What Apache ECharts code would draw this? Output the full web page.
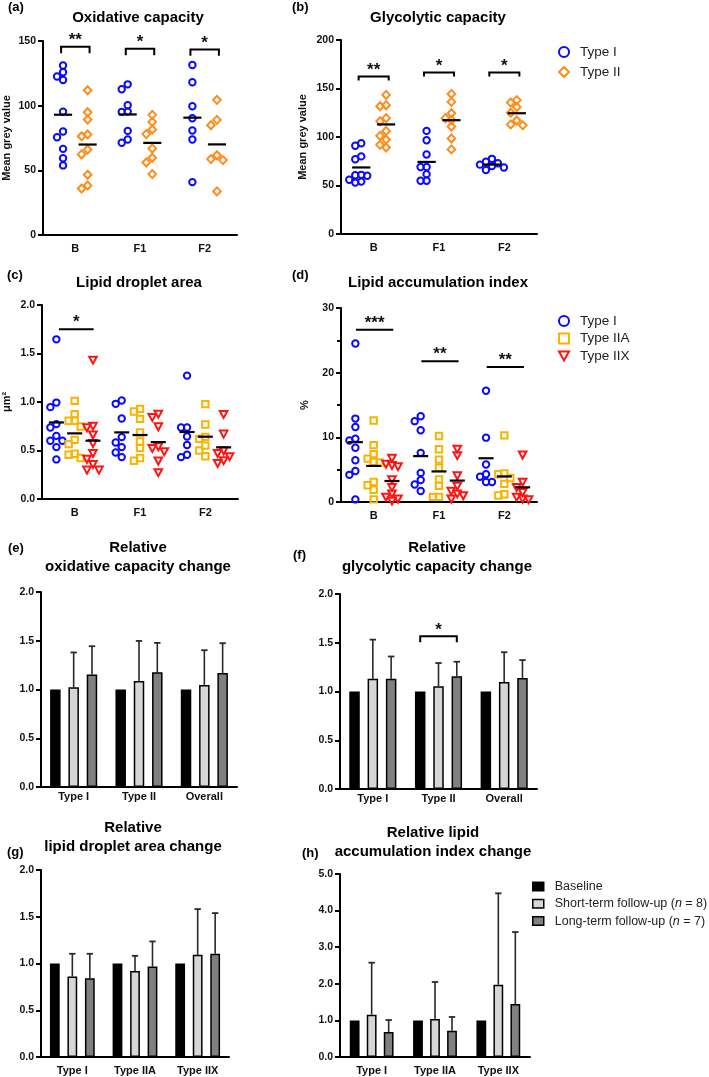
<!DOCTYPE html>
<html><head><meta charset="utf-8">
<script src="https://cdn.jsdelivr.net/npm/echarts@6/dist/echarts.min.js"></script>
<style>html,body{margin:0;padding:0;background:#fff}#c{width:709px;height:1077px}</style>
</head><body><div id="c"></div>
<script>
// ---------------- DATA ----------------
const timeCats = ['B', 'F1', 'F2'];
const relCatsEF = ['Type I', 'Type II', 'Overall'];
const relCatsGH = ['Type I', 'Type IIA', 'Type IIX'];

// (a) Oxidative capacity – mean grey value, per time point
const oxTypeI  = [[131,125.8,122.5,119.9,95.4,80,75.6,66.6,59.4,53.8],[116.5,112.7,100.3,95.4,95.2,80.5,73.8,71.3],[131.5,118.1,99.6,90.3,80.8,73.8,40.9]];
const oxTypeII = [[111.9,94.9,89.3,77.7,76.4,66.1,62.3,46.6,38.3,36.0],[92.9,87.5,81.6,78,66.9,59.7,56.1,47.1],[104.5,89,84.9,61.7,58.7,57.9,33.7]];
// (b) Glycolytic capacity
const glyTypeI  = [[93.5,91,80,77,61,60.5,60,56,54,53],[106.3,96.7,82,69,69,61.7,54.9,54.9],[77.5,74.5,73,71.5,70,68.5,66]];
const glyTypeII = [[143.4,132.8,131.7,119.4,116.3,106.3,101.2,97.4,91.9,89.2],[144.4,136.2,124.5,119.4,117.6,110.8,98.5,87.2],[138,135.5,131,125,117,113,112]];
// (c) Lipid droplet area (µm²)
const ldaTypeI   = [[1.646,0.994,0.947,0.772,0.737,0.651,0.600,0.600,0.535,0.408],[1.015,0.981,0.830,0.638,0.583,0.535,0.480,0.432],[1.272,0.737,0.737,0.644,0.556,0.456,0.432]];
const ldaTypeIIA = [[1.012,0.875,0.806,0.806,0.747,0.610,0.566,0.466,0.456,0.422],[0.929,0.902,0.826,0.686,0.593,0.525,0.422,0.394],[0.978,0.768,0.64,0.62,0.55,0.50,0.44]];
const ldaTypeIIX = [[1.434,0.754,0.737,0.662,0.576,0.473,0.412,0.360,0.301,0.301],[0.878,0.844,0.747,0.541,0.525,0.490,0.394,0.274],[0.875,0.672,0.500,0.473,0.439,0.398,0.370]];
// (d) Lipid accumulation index (%)
const laiTypeI   = [[24.5,12.9,11.6,9.8,9.5,8.4,6.45,4.8,4.2,0.4],[13.25,12.5,11.1,7.6,4.5,3.4,2.7,1.7],[17.2,9.95,5.8,4.3,3.9,3.1,3.1]];
const laiTypeIIA = [[12.6,8.8,7.4,6.7,6.2,6.1,3.1,2.6,1.9,0.4],[10.2,8.15,6.55,5.3,3.5,2.5,0.8,0.8],[10.3,4.4,4.3,3.7,2.8,1.2,1.0]];
const laiTypeIIX = [[6.8,5.9,5.7,5.5,3.5,2.3,1.3,0.8,0.5,0.2],[8.2,7.2,4.1,2.5,1.7,1.3,1.0,0.5],[7.3,3.1,2.3,1.5,0.8,0.5,0.4]];

// significance annotations: category, bracket height, tick end, label
const sigOx  = [{cat:0,y:145.6,tick:140.5,label:'**'},{cat:1,y:144,tick:139,label:'*'},{cat:2,y:143.5,tick:138.5,label:'*'}];
const sigGly = [{cat:0,y:162.3,tick:158.2,label:'**'},{cat:1,y:166.4,tick:162.3,label:'*'},{cat:2,y:166.4,tick:162.3,label:'*'}];
const sigLda = [{cat:0,y:1.75,label:'*'}];
const sigLai = [{cat:0,y:26.65,label:'***'},{cat:1,y:21.76,label:'**'},{cat:2,y:20.88,label:'**'}];
const sigGlyRel = [{cat:1,y:1.566,tick:1.505,label:'*'}];

// (e)-(h) relative changes: bar height and upper end of error bar
const baseline = [1, 1, 1];
const oxRelShort = [1.024,1.088,1.047], oxRelShortTop = [1.38,1.498,1.403];
const oxRelLong  = [1.153,1.176,1.169], oxRelLongTop  = [1.444,1.478,1.475];
const glyRelShort = [1.132,1.054,1.098], glyRelShortTop = [1.532,1.292,1.403];
const glyRelLong  = [1.132,1.156,1.139], glyRelLongTop  = [1.359,1.305,1.322];
const ldaRelShort = [0.861,0.921,1.093], ldaRelShortTop = [1.104,1.082,1.582];
const ldaRelLong  = [0.843,0.968,1.104], ldaRelLongTop  = [1.104,1.236,1.539];
const laiRelShort = [1.157,1.038,1.976], laiRelShortTop = [2.577,2.049,4.472];
const laiRelLong  = [0.683,0.719,1.448], laiRelLongTop  = [1.011,1.093,3.415];
const nShort = 8, nLong = 7;

// ---------------- STYLE ----------------
const FONT = '"Liberation Sans", Arial, Helvetica, sans-serif';
const BLUE = '#0a0aff', ORANGE = '#ff8c1a', YELLOW = '#f7b400', RED = '#ff1414';
const LIGHT = '#d6d6d6', DARK = '#808080';

const grids = [
  {left:41, top:41, width:196, height:194},
  {left:341, top:40, width:196, height:194},
  {left:42, top:305, width:196, height:194},
  {left:341, top:308, width:196, height:194},
  {left:41, top:592, width:196, height:195},
  {left:340, top:594, width:197, height:195},
  {left:41, top:870, width:188, height:187},
  {left:340, top:874, width:190, height:183}
];

function xAx(gi, cats, margin) {
  return {gridIndex:gi, type:'category', data:cats, boundaryGap:true,
    axisLine:{lineStyle:{color:'#000', width:2}},
    axisTick:{alignWithLabel:true, length:5, lineStyle:{color:'#000', width:2}},
    axisLabel:{fontFamily:FONT, fontWeight:'bold', fontSize:11, color:'#111', margin:margin},
    splitLine:{show:false}};
}
function yAx(gi, max, interval, dec, name, gap, extra) {
  return Object.assign({gridIndex:gi, type:'value', min:0, max:max, interval:interval,
    name:name, nameLocation:'middle', nameGap:gap,
    nameTextStyle:{fontFamily:FONT, fontWeight:'bold', fontSize:11, color:'#111'},
    axisLine:{show:true, lineStyle:{color:'#000', width:2}},
    axisTick:{show:true, length:5, lineStyle:{color:'#000', width:2}},
    axisLabel:{fontFamily:FONT, fontWeight:'bold', fontSize:10.5, color:'#111', margin:7,
      formatter: v => v.toFixed(dec)},
    splitLine:{show:false}}, extra || {});
}

const xAxes = [
  xAx(0,timeCats,8), xAx(1,timeCats,8), xAx(2,timeCats,8), xAx(3,timeCats,8),
  xAx(4,relCatsEF,4), xAx(5,relCatsEF,4), xAx(6,relCatsGH,8), xAx(7,relCatsGH,8)
];
const yAxes = [
  yAx(0,150,50,0,'Mean grey value',31),
  yAx(1,200,50,0,'Mean grey value',33),
  yAx(2,2,0.5,1,'μm²',30),
  yAx(3,30,10,0,'%',31,{minorTick:{show:true, splitNumber:2, length:4, lineStyle:{color:'#000', width:2}}}),
  yAx(4,2,0.5,1,'',30), yAx(5,2,0.5,1,'',30), yAx(6,2,0.5,1,'',30), yAx(7,5,1,1,'',30)
];

// ---------------- HELPERS ----------------
function swarm(pts, step, D) {
  const order = pts.slice().sort((a, b) => a.y - b.y);
  const placed = [];
  order.forEach(p => {
    let off = 0;
    for (let n = 0; n < 40; n++) {
      off = n === 0 ? 0 : (n % 2 ? -1 : 1) * Math.ceil(n / 2) * step;
      const x = p.x0 + off;
      if (placed.every(q => (q.x - x) * (q.x - x) + (q.y - p.y) * (q.y - p.y) >= D * D)) break;
    }
    p.x = p.x0 + off;
    placed.push(p);
  });
}
function shapeEl(shape, x, y, color) {
  const st = {fill:'rgba(0,0,0,0)', stroke:color, lineWidth:2};
  if (shape === 'circle') return {type:'circle', shape:{cx:x, cy:y, r:3.2}, style:st};
  if (shape === 'diamond') return {type:'polygon', shape:{points:[[x,y-4],[x+3.8,y],[x,y+4],[x-3.8,y]]}, style:st};
  if (shape === 'square') return {type:'rect', shape:{x:x-3.2, y:y-3.2, width:6.4, height:6.4}, style:st};
  return {type:'polygon', shape:{points:[[x-3.8,y-3.2],[x+3.8,y-3.2],[x,y+3.8]]}, style:st};
}
function pointSeries(name, gi, groups, shape, color, frac) {
  const data = [];
  groups.forEach((vals, c) => vals.forEach(v => data.push([c, v])));
  return {type:'custom', name:name, xAxisIndex:gi, yAxisIndex:gi, z:3, data:data, silent:true,
    renderItem(params, api) {
      const band = api.size([1, 0])[0];
      const pos = [];
      groups.forEach((vals, c) => {
        const pts = vals.map(v => { const p = api.coord([c, v]); return {x0:p[0] + frac * band, y:p[1]}; });
        swarm(pts, 6, 6);
        pts.forEach(p => pos.push(p));
      });
      const p = pos[params.dataIndex];
      return shapeEl(shape, p.x, p.y, color);
    }};
}
function meanSeries(gi, groups, frac, hw) {
  const data = groups.map((vals, c) => [c, vals.reduce((a, b) => a + b, 0) / vals.length]);
  return {type:'custom', xAxisIndex:gi, yAxisIndex:gi, z:6, data:data, silent:true,
    renderItem(params, api) {
      const band = api.size([1, 0])[0];
      const p = api.coord([api.value(0), api.value(1)]);
      const x = p[0] + frac * band;
      return {type:'line', shape:{x1:x - hw * band, y1:p[1], x2:x + hw * band, y2:p[1]},
        style:{stroke:'#000', lineWidth:2.2}};
    }};
}
function sigSeries(gi, sigs, spanFn) {
  const data = sigs.map((s, i) => [s.cat, s.y, s.tick == null ? s.y : s.tick, i]);
  return {type:'custom', xAxisIndex:gi, yAxisIndex:gi, z:7, data:data, silent:true,
    renderItem(params, api) {
      const band = api.size([1, 0])[0];
      const c = api.coord([api.value(0), api.value(1)]);
      const t = api.coord([api.value(0), api.value(2)]);
      const sp = spanFn(band);
      const x1 = c[0] + sp[0], x2 = c[0] + sp[1];
      return {type:'group', children:[
        {type:'polyline', shape:{points:[[x1,t[1]],[x1,c[1]],[x2,c[1]],[x2,t[1]]]},
          style:{stroke:'#000', lineWidth:2, fill:null}},
        {type:'text', style:{text:sigs[api.value(3)].label, x:(x1 + x2) / 2, y:c[1] - 6.5,
          align:'center', verticalAlign:'middle', textAlign:'center', textVerticalAlign:'middle',
          font:'bold 17px ' + FONT, fill:'#111'}}
      ]};
    }};
}
function barSeries(gi, base, shortV, shortTop, longV, longTop, bw, step) {
  const gap = ((step - bw) / bw * 100).toFixed(1) + '%';
  const common = {type:'bar', xAxisIndex:gi, yAxisIndex:gi, barWidth:bw, barGap:gap, silent:true, z:2};
  const errData = [];
  shortV.forEach((v, i) => errData.push([i, 1, v, shortTop[i]]));
  longV.forEach((v, i) => errData.push([i, 2, v, longTop[i]]));
  return [
    Object.assign({}, common, {name:'Baseline', data:base, itemStyle:{color:'#000', borderColor:'#000', borderWidth:1.5}}),
    Object.assign({}, common, {name:'Short-term follow-up', data:shortV, itemStyle:{color:LIGHT, borderColor:'#000', borderWidth:1.5}}),
    Object.assign({}, common, {name:'Long-term follow-up', data:longV, itemStyle:{color:DARK, borderColor:'#000', borderWidth:1.5}}),
    {type:'custom', xAxisIndex:gi, yAxisIndex:gi, z:1, data:errData, silent:true,
      encode:{x:0, y:[2,3]},
      renderItem(params, api) {
        const m = api.coord([api.value(0), api.value(2)]);
        const t = api.coord([api.value(0), api.value(3)]);
        const x = m[0] + (api.value(1) - 1) * step;
        return {type:'group', children:[
          {type:'line', shape:{x1:x, y1:m[1], x2:x, y2:t[1]}, style:{stroke:'#2a2a2a', lineWidth:1.6}},
          {type:'line', shape:{x1:x - 3.2, y1:t[1], x2:x + 3.2, y2:t[1]}, style:{stroke:'#2a2a2a', lineWidth:1.8}}
        ]};
      }}
  ];
}

// ---------------- SERIES ----------------
let series = [];
series.push(pointSeries('Type I', 0, oxTypeI, 'circle', BLUE, -0.19));
series.push(pointSeries('Type II', 0, oxTypeII, 'diamond', ORANGE, 0.19));
series.push(meanSeries(0, oxTypeI, -0.19, 0.14), meanSeries(0, oxTypeII, 0.19, 0.14));
series.push(sigSeries(0, sigOx, b => [-0.22 * b, 0.22 * b]));

series.push(pointSeries('Type I', 1, glyTypeI, 'circle', BLUE, -0.19));
series.push(pointSeries('Type II', 1, glyTypeII, 'diamond', ORANGE, 0.19));
series.push(meanSeries(1, glyTypeI, -0.19, 0.14), meanSeries(1, glyTypeII, 0.19, 0.14));
series.push(sigSeries(1, sigGly, b => [-0.23 * b, 0.23 * b]));

series.push(pointSeries('Type I', 2, ldaTypeI, 'circle', BLUE, -0.28));
series.push(pointSeries('Type IIA', 2, ldaTypeIIA, 'square', YELLOW, 0));
series.push(pointSeries('Type IIX', 2, ldaTypeIIX, 'triangle', RED, 0.28));
series.push(meanSeries(2, ldaTypeI, -0.28, 0.115), meanSeries(2, ldaTypeIIA, 0, 0.115), meanSeries(2, ldaTypeIIX, 0.28, 0.115));
series.push(sigSeries(2, sigLda, b => [-0.24 * b, 0.29 * b]));

series.push(pointSeries('Type I', 3, laiTypeI, 'circle', BLUE, -0.28));
series.push(pointSeries('Type IIA', 3, laiTypeIIA, 'square', YELLOW, 0));
series.push(pointSeries('Type IIX', 3, laiTypeIIX, 'triangle', RED, 0.28));
series.push(meanSeries(3, laiTypeI, -0.28, 0.115), meanSeries(3, laiTypeIIA, 0, 0.115), meanSeries(3, laiTypeIIX, 0.28, 0.115));
series.push(sigSeries(3, sigLai, b => [-0.27 * b, 0.3 * b]));

series = series.concat(barSeries(4, baseline, oxRelShort, oxRelShortTop, oxRelLong, oxRelLongTop, 10.5, 18.3));
series = series.concat(barSeries(5, baseline, glyRelShort, glyRelShortTop, glyRelLong, glyRelLongTop, 10.5, 18.3));
series.push(sigSeries(5, sigGlyRel, b => [-18.3, 18.3]));
series = series.concat(barSeries(6, baseline, ldaRelShort, ldaRelShortTop, ldaRelLong, ldaRelLongTop, 9.8, 17.5));
series = series.concat(barSeries(7, baseline, laiRelShort, laiRelShortTop, laiRelLong, laiRelLongTop, 9.8, 17));

// ---------------- LEGENDS ----------------
const legText = {fontFamily:FONT, fontSize:13.5, color:'#222', padding:[0,0,0,6]};
const legTextH = {fontFamily:FONT, fontSize:12.5, color:'#222', padding:[0,0,0,6],
  rich:{i:{fontFamily:FONT, fontSize:12.5, fontStyle:'italic', color:'#222'}}};
const hollow = c => ({color:'#fff', borderColor:c, borderWidth:2});
const legends = [
  {orient:'vertical', left:558, top:45, padding:0, itemWidth:10, itemHeight:10, itemGap:6, textStyle:legText, selectedMode:false,
    data:[{name:'Type I', icon:'circle', itemStyle:hollow(BLUE)},
          {name:'Type II', icon:'diamond', itemStyle:hollow(ORANGE)}]},
  {orient:'vertical', left:558, top:314, padding:0, itemWidth:10, itemHeight:10, itemGap:3.5, textStyle:legText, selectedMode:false,
    data:[{name:'Type I', icon:'circle', itemStyle:hollow(BLUE)},
          {name:'Type IIA', icon:'rect', itemStyle:hollow(YELLOW)},
          {name:'Type IIX', icon:'path://M0,0L10,0L5,9Z', itemStyle:hollow(RED)}]},
  {orient:'vertical', left:532, top:880, padding:0, itemWidth:11, itemHeight:8.5, itemGap:4.3, textStyle:legTextH, selectedMode:false,
    formatter: n => n === 'Short-term follow-up' ? n + ' ({i|n} = ' + nShort + ')' :
                    n === 'Long-term follow-up' ? n + ' ({i|n} = ' + nLong + ')' : n,
    data:[{name:'Baseline', icon:'rect', itemStyle:{color:'#000', borderColor:'#000', borderWidth:1.5}},
          {name:'Short-term follow-up', icon:'rect', itemStyle:{color:LIGHT, borderColor:'#000', borderWidth:1.5}},
          {name:'Long-term follow-up', icon:'rect', itemStyle:{color:DARK, borderColor:'#000', borderWidth:1.5}}]}
];

// ---------------- TITLES ----------------
const titleTexts = [
  ['Oxidative capacity', 138, 18], ['Glycolytic capacity', 438, 18],
  ['Lipid droplet area', 139, 283], ['Lipid accumulation index', 438, 283],
  ['Relative\noxidative capacity change', 138, 557.5], ['Relative\nglycolytic capacity change', 437, 557.5],
  ['Relative\nlipid droplet area change', 133, 837], ['Relative lipid\naccumulation index change', 433, 842]
];
const panelLabels = [['(a)', 8, 7], ['(b)', 292, 7], ['(c)', 7, 275], ['(d)', 292, 275],
  ['(e)', 8, 548], ['(f)', 293, 555], ['(g)', 7, 852], ['(h)', 302, 853]];
const graphic = [];
titleTexts.forEach(t => graphic.push({type:'text', x:t[1], y:t[2], silent:true,
  style:{text:t[0], font:'bold 15px ' + FONT, fill:'#000', lineHeight:19,
    align:'center', verticalAlign:'middle', textAlign:'center', textVerticalAlign:'middle'}}));
panelLabels.forEach(t => graphic.push({type:'text', x:t[1], y:t[2], silent:true,
  style:{text:t[0], font:'bold 13px ' + FONT, fill:'#000',
    align:'left', verticalAlign:'middle', textAlign:'left', textVerticalAlign:'middle'}}));

const chart = echarts.init(document.getElementById('c'), null, {renderer:'canvas'});
chart.setOption({
  animation:false, backgroundColor:'#fff',
  grid:grids, xAxis:xAxes, yAxis:yAxes, series:series, legend:legends, graphic:graphic
});
</script></body></html>
